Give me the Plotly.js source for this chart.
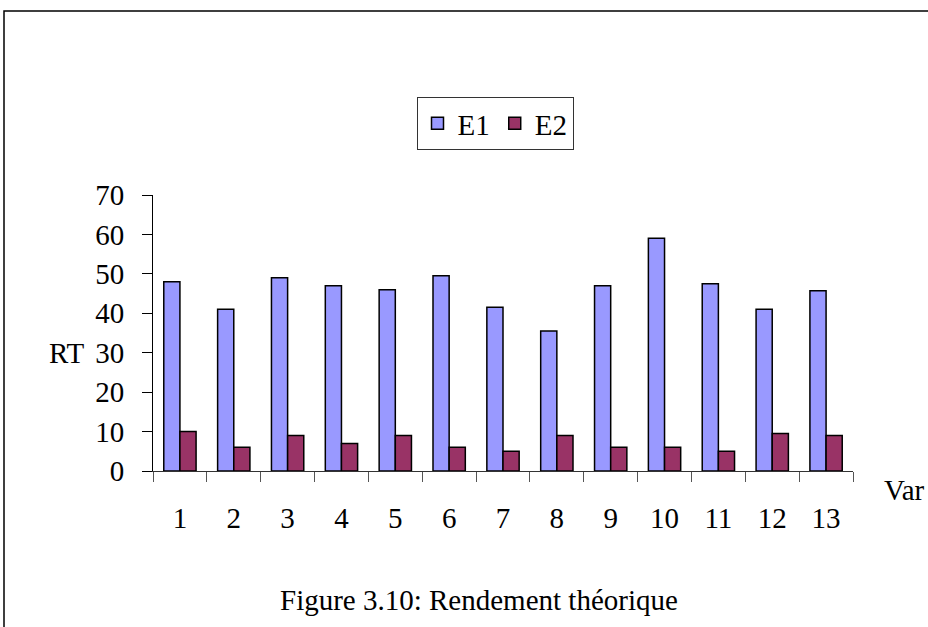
<!DOCTYPE html>
<html>
<head>
<meta charset="utf-8">
<script src="https://cdn.plot.ly/plotly-3.0.1.min.js"></script>
<style>html,body{margin:0;padding:0;background:#fff;}</style>
</head>
<body>
<div id="chart" style="width:928px;height:627px;"></div>
<script>
const categories = ["1","2","3","4","5","6","7","8","9","10","11","12","13"];
const e1Values = [48, 41, 49, 47, 46, 49.5, 41.5, 35.5, 47, 59, 47.5, 41, 45.7];
const e2Values = [10, 6, 9, 7, 9, 6, 5, 9, 6, 6, 5, 9.5, 9];
const seriesNames = ["E1", "E2"];
const yTicks = [0, 10, 20, 30, 40, 50, 60, 70];

const FONT = "Liberation Serif, Times New Roman, serif";

const traces = [
  {type: "bar", name: seriesNames[0], x: categories, y: e1Values,
   marker: {color: "#9999FF", line: {color: "#000", width: 1.5}}},
  {type: "bar", name: seriesNames[1], x: categories, y: e2Values,
   marker: {color: "#993366", line: {color: "#000", width: 1.5}}}
];

const L = 153, R = 853, T = 195, B = 471, W = 928, H = 627;
const px = v => (v - L) / (R - L);
const py = v => (B - v) / (B - T);

const layout = {
  width: W, height: H,
  margin: {l: L, r: W - R, t: T, b: H - B, pad: 0},
  paper_bgcolor: "#fff", plot_bgcolor: "#fff",
  font: {family: FONT, size: 29, color: "#000"},
  barmode: "group", bargap: 0.4, bargroupgap: 0,
  showlegend: true,
  legend: {orientation: "h", x: px(495), xanchor: "center", y: py(97), yanchor: "top",
           bordercolor: "#333", borderwidth: 1, font: {family: FONT, size: 29},
           itemwidth: 30, traceorder: "normal"},
  xaxis: {type: "category", showline: true, linecolor: "#333", linewidth: 1,
          ticks: "outside", tickson: "boundaries", ticklen: 10, tickcolor: "#555", tickwidth: 1,
          showgrid: false, zeroline: false, tickfont: {family: FONT, size: 29},
          ticklabelstandoff: 21, fixedrange: true},
  yaxis: {range: [0, 70], tickvals: yTicks, showline: true, linecolor: "#000", linewidth: 1,
          ticks: "outside", ticklen: 10, tickcolor: "#000", tickwidth: 1,
          showgrid: false, zeroline: false, tickfont: {family: FONT, size: 29},
          ticklabelstandoff: 12, fixedrange: true},
  annotations: [
    {text: "RT", xref: "paper", yref: "y", x: px(67), y: 30, showarrow: false,
     xanchor: "center", yanchor: "middle", font: {family: FONT, size: 29}},
    {text: "Var", xref: "paper", yref: "paper", x: px(904), y: py(490), showarrow: false,
     xanchor: "center", yanchor: "middle", font: {family: FONT, size: 29}},
    {text: "Figure 3.10: Rendement théorique", xref: "paper", yref: "paper",
     x: px(479), y: py(600), showarrow: false, xanchor: "center", yanchor: "middle",
     font: {family: FONT, size: 29}}
  ],
  shapes: [
    {type: "rect", xref: "paper", yref: "paper", x0: px(4), x1: px(940), y0: py(640), y1: py(11),
     line: {color: "#000", width: 1.5}, fillcolor: "rgba(0,0,0,0)", layer: "below"}
  ]
};

Plotly.newPlot("chart", traces, layout, {displayModeBar: false, staticPlot: true});
</script>
</body>
</html>
